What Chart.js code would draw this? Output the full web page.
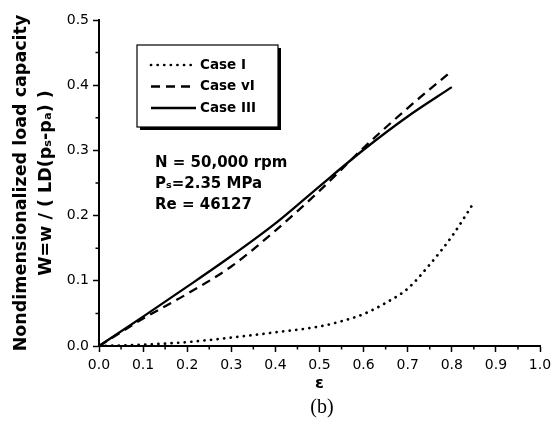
<!DOCTYPE html>
<html lang="en">
<head>
    <meta charset="UTF-8">
    <title>Nondimensionalized load capacity</title>
    <script src="https://cdn.jsdelivr.net/npm/chart.js"></script>
    <style>
        body {
            margin: 0;
            padding: 0;
            background-color: #fff;
        }
        .chart-container {
            width: 552px;
            height: 430px;
            position: relative;
        }
    </style>
</head>
<body>

<div class="chart-container">
    <canvas id="mainCanvas"></canvas>
</div>

<script>
    // eccentricity values and load capacity
    const epsCase1 = [0, 0.1, 0.2, 0.3, 0.4, 0.5, 0.55, 0.6, 0.65, 0.7, 0.75, 0.8, 0.85];
    const wCase1 = [0, 0.002, 0.006, 0.013, 0.021, 0.030, 0.038, 0.049, 0.066, 0.088, 0.125, 0.168, 0.22];

    const epsCase6 = [0, 0.1, 0.2, 0.3, 0.4, 0.5, 0.6, 0.7, 0.8];
    const wCase6 = [0, 0.042, 0.08, 0.122, 0.177, 0.238, 0.304, 0.365, 0.422];

    const epsCase3 = [0, 0.1, 0.2, 0.3, 0.4, 0.5, 0.6, 0.7, 0.8];
    const wCase3 = [0, 0.045, 0.091, 0.138, 0.188, 0.245, 0.301, 0.352, 0.397];

    const xTicks = [0, 0.1, 0.2, 0.3, 0.4, 0.5, 0.6, 0.7, 0.8, 0.9, 1.0];
    const yTicks = [0, 0.1, 0.2, 0.3, 0.4, 0.5];

    const infoLines = ['N = 50,000 rpm', 'Pₛ=2.35 MPa', 'Re = 46127'];

    const sans = '"DejaVu Sans", Arial, sans-serif';

    function toPoints(xs, ys) {
        return xs.map((x, i) => ({x: x, y: ys[i]}));
    }

    // legend box, text block and minor ticks
    const extras = {
        id: 'extras',
        afterDraw(chart) {
            const ctx = chart.ctx;
            const xs = chart.scales.x;
            const ys = chart.scales.y;
            ctx.save();

            // minor ticks
            ctx.strokeStyle = '#000';
            ctx.lineWidth = 1.5;
            ctx.beginPath();
            for (let v = 0.05; v < 1; v += 0.1) {
                const px = xs.getPixelForValue(v);
                ctx.moveTo(px, ys.bottom);
                ctx.lineTo(px, ys.bottom + 3.5);
            }
            for (let v = 0.05; v < 0.5; v += 0.1) {
                const py = ys.getPixelForValue(v);
                ctx.moveTo(xs.left, py);
                ctx.lineTo(xs.left - 3.5, py);
            }
            ctx.stroke();

            // legend
            const bx = 137, by = 45, bw = 141, bh = 82;
            ctx.fillStyle = '#000';
            ctx.fillRect(bx + 3, by + 3, bw, bh);
            ctx.fillStyle = '#fff';
            ctx.fillRect(bx, by, bw, bh);
            ctx.lineWidth = 1.2;
            ctx.strokeRect(bx, by, bw, bh);

            ctx.font = 'bold 13.5px ' + sans;
            ctx.textBaseline = 'middle';
            chart.data.datasets.forEach((ds, i) => {
                const ly = 65 + i * 21.5;
                ctx.strokeStyle = '#000';
                ctx.lineWidth = ds.borderWidth;
                ctx.lineCap = ds.borderCapStyle || 'butt';
                ctx.setLineDash(ds.borderDash || []);
                ctx.beginPath();
                ctx.moveTo(151, ly);
                ctx.lineTo(196, ly);
                ctx.stroke();
                ctx.setLineDash([]);
                ctx.fillStyle = '#000';
                ctx.fillText(ds.label, 200, ly);
            });

            // operating conditions
            ctx.font = 'bold 15px ' + sans;
            infoLines.forEach((t, i) => {
                ctx.fillText(t, 155, 163 + i * 21);
            });

            // sub-figure label
            ctx.font = '20px "Liberation Serif", "Times New Roman", serif';
            ctx.textAlign = 'center';
            ctx.fillText('(b)', 322, 408);
            ctx.restore();
        }
    };

    const ctx = document.getElementById('mainCanvas').getContext('2d');
    const chart = new Chart(ctx, {
        type: 'line',
        data: {
            datasets: [
                {
                    label: 'Case I',
                    data: toPoints(epsCase1, wCase1),
                    borderColor: '#000',
                    borderWidth: 2.7,
                    borderDash: [0.1, 6.5],
                    borderCapStyle: 'round',
                    pointRadius: 0,
                    cubicInterpolationMode: 'monotone',
                    fill: false
                },
                {
                    label: 'Case vI',
                    data: toPoints(epsCase6, wCase6),
                    borderColor: '#000',
                    borderWidth: 2.3,
                    borderDash: [9, 6],
                    pointRadius: 0,
                    cubicInterpolationMode: 'monotone',
                    fill: false
                },
                {
                    label: 'Case III',
                    data: toPoints(epsCase3, wCase3),
                    borderColor: '#000',
                    borderWidth: 2.3,
                    pointRadius: 0,
                    cubicInterpolationMode: 'monotone',
                    fill: false
                }
            ]
        },
        options: {
            responsive: true,
            maintainAspectRatio: false,
            animation: false,
            layout: {
                padding: {top: 20, right: 12, bottom: 0, left: 0}
            },
            plugins: {
                legend: {display: false},
                tooltip: {enabled: false}
            },
            scales: {
                x: {
                    type: 'linear',
                    min: 0,
                    max: 1,
                    afterBuildTicks: (scale) => {
                        scale.ticks = xTicks.map(v => ({value: v}));
                    },
                    afterFit: (scale) => {
                        scale.height = 84;
                        scale.paddingRight = 0; // let "1.0" run to the edge
                        scale.paddingLeft = 0;
                    },
                    grid: {
                        drawOnChartArea: false,
                        drawTicks: true,
                        tickLength: 6,
                        tickWidth: 1.5,
                        color: '#000'
                    },
                    border: {display: true, color: '#000', width: 2},
                    ticks: {
                        color: '#000',
                        padding: 5,
                        maxRotation: 0,
                        font: {family: sans, size: 14},
                        callback: (v) => v.toFixed(1)
                    },
                    title: {
                        display: true,
                        text: 'ε',
                        color: '#000',
                        font: {family: sans, size: 16, weight: 'bold', lineHeight: 1.25},
                        padding: {top: 0, bottom: 36}
                    }
                },
                y: {
                    type: 'linear',
                    min: 0,
                    max: 0.5,
                    afterBuildTicks: (scale) => {
                        scale.ticks = yTicks.map(v => ({value: v}));
                    },
                    afterFit: (scale) => {
                        scale.width = 99;
                    },
                    grid: {
                        drawOnChartArea: false,
                        drawTicks: true,
                        tickLength: 6,
                        tickWidth: 1.5,
                        color: '#000'
                    },
                    border: {display: true, color: '#000', width: 2},
                    ticks: {
                        color: '#000',
                        padding: 4,
                        font: {family: sans, size: 14},
                        callback: (v) => v.toFixed(1)
                    },
                    title: {
                        display: true,
                        text: ['Nondimensionalized load capacity', 'W=w / ( LD(pₛ-pₐ) )'],
                        color: '#000',
                        font: {family: sans, size: 17.5, weight: 'bold', lineHeight: 1.42},
                        padding: {top: 9, bottom: 0}
                    }
                }
            }
        },
        plugins: [extras]
    });
</script>
</body>
</html>
